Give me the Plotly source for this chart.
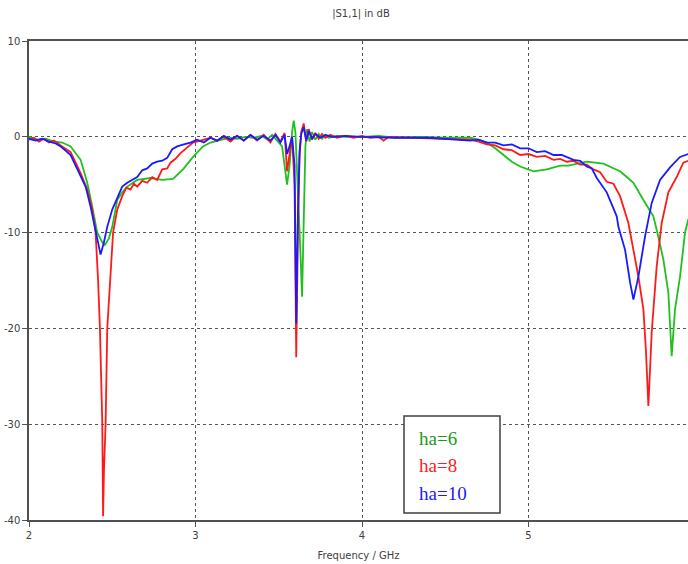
import plotly.graph_objects as go

# ---- data ----
f_ha6 = [2.00, 2.05, 2.10, 2.15, 2.20, 2.25, 2.31, 2.35, 2.38, 2.41, 2.44, 2.456, 2.48, 2.50, 2.53, 2.56, 2.59,
         2.65, 2.73, 2.80, 2.865, 2.925, 2.985, 3.045, 3.09, 3.15, 3.20, 3.25, 3.30, 3.35, 3.40, 3.43, 3.46, 3.49,
         3.52, 3.55, 3.565, 3.58, 3.59, 3.60, 3.615, 3.63, 3.64, 3.65, 3.66, 3.67, 3.685, 3.70, 3.72, 3.74, 3.76,
         3.78, 3.80, 3.85, 3.90, 4.00, 4.10, 4.20, 4.35, 4.50, 4.65, 4.70, 4.75, 4.80, 4.85, 4.90, 4.95, 5.03,
         5.11, 5.19, 5.24, 5.29, 5.35, 5.40, 5.45, 5.50, 5.55, 5.59, 5.63, 5.69, 5.75, 5.77, 5.81, 5.84, 5.86,
         5.88, 5.91, 5.94, 5.96]
s_ha6 = [0.0, -0.3, -0.2, -0.5, -0.6, -1.0, -2.4, -4.8, -7.3, -10.0, -11.0, -11.3, -10.6, -9.4, -6.6, -5.8, -5.2,
         -4.5, -4.3, -4.5, -4.4, -3.4, -2.1, -1.0, -0.6, -0.3, -0.1, -0.2, 0.0, -0.1, 0.1, -0.3, 0.2, -0.4,
         -1.0, -5.0, -3.0, 0.5, 1.7, 0.5, -5.0, -12.0, -16.7, -8.0, -1.0, 0.8, -0.5, 0.5, -0.3, 0.3, -0.2,
         0.2, -0.1, 0.1, 0.0, 0.0, 0.1, -0.1, 0.0, -0.1, -0.1, -0.3, -0.6, -1.2, -1.9, -2.6, -3.1, -3.6,
         -3.4, -3.0, -3.0, -2.8, -2.6, -2.7, -2.8, -3.2, -3.6, -4.2, -4.8, -6.6, -8.3, -9.7, -12.8, -16.3, -22.9,
         -18.0, -14.6, -10.0, -8.6]

f_ha8 = [2.00, 2.03, 2.06, 2.09, 2.12, 2.15, 2.19, 2.25, 2.31, 2.35, 2.38, 2.40, 2.415, 2.426, 2.44, 2.445, 2.45,
         2.46, 2.47, 2.49, 2.505, 2.53, 2.56, 2.585, 2.61, 2.63, 2.65, 2.68, 2.71, 2.74, 2.77, 2.80, 2.83, 2.85,
         2.88, 2.91, 2.95, 2.985, 3.03, 3.09, 3.13, 3.17, 3.21, 3.25, 3.29, 3.33, 3.37, 3.41, 3.45, 3.48, 3.51,
         3.535, 3.55, 3.565, 3.58, 3.595, 3.605, 3.615, 3.625, 3.635, 3.65, 3.665, 3.68, 3.70, 3.72, 3.74, 3.76,
         3.78, 3.81, 3.85, 3.90, 3.95, 4.00, 4.05, 4.10, 4.13, 4.16, 4.30, 4.50, 4.65, 4.70, 4.75, 4.80, 4.85,
         4.90, 4.95, 5.00, 5.05, 5.10, 5.15, 5.19, 5.23, 5.27, 5.31, 5.35, 5.39, 5.43, 5.47, 5.51, 5.55, 5.60,
         5.63, 5.66, 5.69, 5.705, 5.72, 5.74, 5.77, 5.80, 5.84, 5.89, 5.93, 5.96]
s_ha8 = [-0.3, -0.1, -0.5, -0.2, -0.6, -0.4, -0.9, -1.6, -3.8, -5.5, -7.6, -10.0, -15.0, -20.0, -29.8, -39.6, -35.0,
         -30.0, -20.0, -14.0, -10.0, -7.6, -6.2, -5.3, -5.5, -4.9, -5.2, -4.6, -4.8, -4.2, -4.5, -3.4, -3.3, -2.7,
         -2.3, -1.7, -1.1, -0.6, -0.4, -0.1, -0.4, 0.0, -0.5, 0.1, -0.4, 0.2, -0.4, 0.2, -0.6, 0.3, -0.5,
         0.4, -3.6, -2.0, 0.0, -5.0, -23.0, -10.0, -2.0, 0.5, 1.4, -0.5, 0.8, -0.3, 0.4, -0.2, 0.3,
         -0.1, 0.2, -0.1, 0.1, -0.1, 0.1, -0.1, 0.0, -0.4, 0.0, -0.1, -0.2, -0.3, -0.5, -0.8, -0.9, -1.3,
         -1.4, -1.9, -1.8, -2.1, -2.0, -2.4, -2.3, -2.6, -2.5, -2.9, -2.9, -3.4, -3.7, -4.7, -4.9, -6.2, -9.0,
         -11.8, -14.6, -18.0, -22.2, -28.1, -20.4, -13.5, -9.0, -5.8, -4.2, -2.7, -2.5]

f_ha10 = [2.00, 2.04, 2.08, 2.12, 2.16, 2.19, 2.25, 2.31, 2.34, 2.37, 2.40, 2.42, 2.43, 2.45, 2.47, 2.50, 2.53,
          2.56, 2.59, 2.62, 2.65, 2.68, 2.71, 2.74, 2.77, 2.80, 2.83, 2.86, 2.89, 2.93, 2.97, 3.01, 3.05, 3.09,
          3.13, 3.17, 3.21, 3.25, 3.29, 3.33, 3.37, 3.41, 3.45, 3.48, 3.51, 3.535, 3.55, 3.565, 3.58, 3.595,
          3.605, 3.615, 3.625, 3.635, 3.65, 3.665, 3.68, 3.70, 3.72, 3.75, 3.78, 3.82, 3.90, 4.00, 4.20, 4.40,
          4.60, 4.65, 4.70, 4.75, 4.80, 4.85, 4.90, 4.95, 5.00, 5.05, 5.10, 5.15, 5.20, 5.27, 5.31, 5.35, 5.38,
          5.41, 5.47, 5.49, 5.53, 5.54, 5.58, 5.61, 5.63, 5.66, 5.70, 5.74, 5.79, 5.85, 5.91, 5.96]
s_ha10 = [-0.2, -0.4, -0.2, -0.5, -0.7, -1.0, -1.9, -4.2, -5.2, -7.3, -9.7, -11.5, -12.3, -11.0, -9.4, -7.6, -6.4,
          -5.2, -4.8, -4.5, -4.2, -3.5, -3.3, -2.8, -2.6, -2.5, -2.2, -1.3, -1.0, -0.8, -0.6, -0.3, -0.6, -0.1,
          -0.4, 0.1, -0.3, 0.1, -0.4, 0.2, -0.3, 0.1, -0.4, 0.2, -0.6, 0.2, -1.8, -1.0, 0.0, -3.0,
          -19.5, -8.0, -1.5, 0.3, 1.0, -0.4, 0.6, -0.2, 0.3, -0.1, 0.2, 0.0, 0.1, 0.0, -0.1, -0.1,
          -0.3, -0.4, -0.3, -0.6, -0.6, -0.9, -0.8, -1.2, -1.2, -1.6, -1.5, -1.9, -1.9, -2.4, -2.5, -3.1, -3.3,
          -4.3, -5.8, -6.6, -8.3, -9.4, -11.8, -15.2, -17.0, -14.6, -10.4, -6.9, -4.5, -3.2, -2.1, -1.8]

names = ["ha=6", "ha=8", "ha=10"]
x_ticks = [2, 3, 4, 5]
y_ticks = [10, 0, -10, -20, -30, -40]

line_colors = ["#1fc01f", "#ff1a1a", "#1a1aff"]
text_colors = ["#1a9a1a", "#ff2020", "#1a1aff"]

fig = go.Figure()
for fx, sy, nm, col in zip([f_ha6, f_ha8, f_ha10], [s_ha6, s_ha8, s_ha10], names, line_colors):
    fig.add_trace(go.Scatter(x=fx, y=sy, mode="lines", name=nm,
                             line=dict(color=col, width=1.8), showlegend=False))

W, H = 688, 564
L, R, T, B = 29, 0, 41, 44
pw, ph = W - L - R, H - T - B

def px_x(p):
    return (p - L) / pw

def px_y(p):
    return (H - B - p) / ph

axis_font = dict(family="DejaVu Sans", size=10, color="#404040")

fig.update_layout(
    width=W, height=H,
    margin=dict(l=L, r=R, t=T, b=B),
    plot_bgcolor="white", paper_bgcolor="white",
    title=dict(text="|S1,1| in dB", xref="container", x=361 / W, xanchor="center",
               yref="container", y=1 - 13 / H, yanchor="middle",
               font=dict(family="DejaVu Sans", size=10, color="#404040")),
    xaxis=dict(range=[2, 2 + pw / 166.5], tickvals=x_ticks, ticktext=[str(v) for v in x_ticks],
               showgrid=True, gridcolor="#555555", griddash="dot", gridwidth=1,
               showline=True, linecolor="#505050", linewidth=1.5, mirror=True,
               ticks="outside", ticklen=5, tickcolor="#505050", tickfont=axis_font,
               zeroline=False,
               title=dict(text="Frequency / GHz", font=dict(family="DejaVu Sans", size=10, color="#404040"),
                          standoff=12)),
    yaxis=dict(range=[-40, 10], tickvals=y_ticks, ticktext=[str(v) for v in y_ticks],
               showgrid=True, gridcolor="#555555", griddash="dot", gridwidth=1,
               showline=True, linecolor="#505050", linewidth=1.5,
               ticks="outside", ticklen=5, tickcolor="#505050", tickfont=axis_font,
               zeroline=False),
)

# legend box drawn as a rectangle with coloured text
fig.add_shape(type="rect", xref="paper", yref="paper",
              x0=px_x(404), x1=px_x(500), y0=px_y(513), y1=px_y(416),
              line=dict(color="#404040", width=1.5), fillcolor="white", layer="above")
for i, (nm, col) in enumerate(zip(names, text_colors)):
    fig.add_annotation(xref="paper", yref="paper", x=px_x(417), y=px_y(438 + 27.5 * i),
                       xanchor="left", yanchor="middle", showarrow=False, text=nm,
                       font=dict(family="Liberation Serif", size=19, color=col))

fig.write_html("out.html")
